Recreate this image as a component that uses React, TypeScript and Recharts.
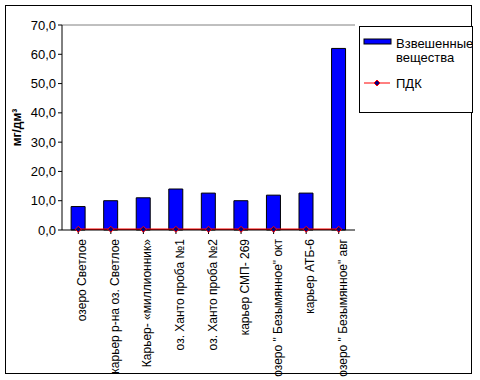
import {
  Bar,
  ComposedChart,
  Legend,
  Line,
  ReferenceLine,
  XAxis,
  YAxis,
} from "recharts";

const sites = [
  "озеро Светлое",
  "карьер  р-на оз. Светлое",
  "Карьер- «миллионник»",
  "оз. Ханто проба №1",
  "оз. Ханто проба №2",
  "карьер СМП- 269",
  "озеро \" Безымянное\"  окт",
  "карьер АТБ-6",
  "озеро \" Безымянное\"  авг",
];
const suspended = [8.0, 10.0, 11.0, 14.0, 12.6, 10.0, 11.9, 12.6, 62.0];
const pdk = [0.25, 0.25, 0.25, 0.25, 0.25, 0.25, 0.25, 0.25, 0.25];
const yTicks = [0, 10, 20, 30, 40, 50, 60, 70];

const data = sites.map((site, i) => ({
  site,
  suspended: suspended[i],
  pdk: pdk[i],
}));

const FONT = "'Liberation Sans', Arial, sans-serif";

function SiteTick({ x, y, payload }: any) {
  return (
    <g transform={`translate(${x},${y})`}>
      <text
        transform="rotate(-90)"
        x={-3}
        y={0}
        dy={8}
        textAnchor="end"
        fontSize={12}
        fontFamily={FONT}
        fill="#000"
      >
        {payload.value}
      </text>
    </g>
  );
}

function Diamond({ cx, cy }: any) {
  if (cx == null || cy == null) return null;
  return (
    <path
      d={`M${cx},${cy - 3}L${cx + 3},${cy}L${cx},${cy + 3}L${cx - 3},${cy}Z`}
      fill="#000080"
      stroke="#ff0000"
      strokeWidth={1}
    />
  );
}

function LegendBox() {
  return (
    <svg width={112} height={85} style={{ display: "block" }}>
      <rect x={4} y={12} width={27} height={5} fill="#0000ff" stroke="#000" />
      <text x={36} y={21} fontSize={13} fontFamily={FONT} fill="#000">
        Взвешенные
      </text>
      <text x={36} y={35} fontSize={13} fontFamily={FONT} fill="#000">
        вещества
      </text>
      <line x1={4} y1={56} x2={30} y2={56} stroke="#ff0000" strokeWidth={1} />
      <Diamond cx={17} cy={56} />
      <text x={36} y={61} fontSize={13} fontFamily={FONT} fill="#000">
        ПДК
      </text>
    </svg>
  );
}

export default function App() {
  return (
    <div style={{ position: "absolute", left: 0, top: 0, width: 480, height: 380, background: "#fff" }}>
      <div
        style={{
          position: "absolute",
          left: 5,
          top: 5,
          width: 467,
          height: 369,
          border: "1px solid #000",
          boxSizing: "border-box",
        }}
      />
      <ComposedChart
        width={480}
        height={380}
        data={data}
        margin={{ top: 25, right: 11, bottom: 0, left: 0 }}
        barCategoryGap="28%"
        style={{ position: "absolute", left: 0, top: 0 }}
      >
        <XAxis
          dataKey="site"
          interval={0}
          tick={<SiteTick />}
          tickLine={{ stroke: "#000" }}
          axisLine={{ stroke: "#000" }}
          tickSize={4}
          height={150}
        />
        <YAxis
          domain={[0, 70]}
          ticks={yTicks}
          width={62}
          tickFormatter={(v: number) => v.toFixed(1).replace(".", ",")}
          tick={{ fontSize: 13, fontFamily: FONT, fill: "#000" }}
          tickLine={{ stroke: "#000" }}
          axisLine={{ stroke: "#000" }}
          tickSize={4}
          label={{
            value: "мг/дм³",
            angle: -90,
            position: "insideLeft",
            offset: 17,
            style: { fontSize: 12, fontWeight: "bold", fontFamily: FONT, fill: "#000", textAnchor: "middle" },
          }}
        />
        <YAxis
          yAxisId="frame"
          orientation="right"
          width={0}
          tick={false}
          tickLine={false}
          axisLine={{ stroke: "#808080" }}
        />
        <ReferenceLine y={70} stroke="#808080" />
        <Bar
          dataKey="suspended"
          name="Взвешенные вещества"
          fill="#0000ff"
          stroke="#000"
          strokeWidth={1}
          isAnimationActive={false}
        />
        <Line
          dataKey="pdk"
          name="ПДК"
          stroke="#ff0000"
          strokeWidth={1.5}
          dot={<Diamond />}
          activeDot={false}
          isAnimationActive={false}
        />
        <Legend
          layout="vertical"
          align="right"
          verticalAlign="top"
          content={<LegendBox />}
          wrapperStyle={{
            position: "absolute",
            left: 359,
            top: 26,
            width: 114,
            height: 87,
            border: "1px solid #000",
            boxSizing: "border-box",
            background: "#fff",
          }}
        />
      </ComposedChart>
    </div>
  );
}
